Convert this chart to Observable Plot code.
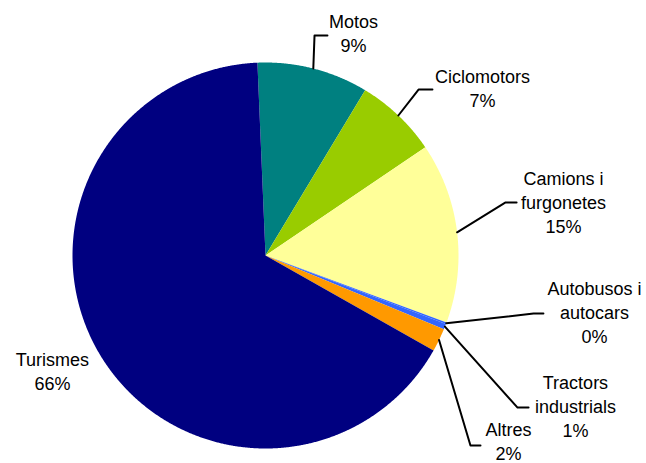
<!DOCTYPE html>
<html>
<head>
<meta charset="utf-8">
<script src="https://cdn.jsdelivr.net/npm/d3@7"></script>
<script src="https://cdn.jsdelivr.net/npm/@observablehq/plot@0.6"></script>
<style>
  html, body { margin: 0; padding: 0; background: #ffffff; }
  #chart { width: 646px; height: 463px; }
</style>
</head>
<body>
<div id="chart"></div>
<script>
// ---- data ----
const categories = ["Motos", "Ciclomotors", "Camions i furgonetes", "Autobusos i autocars", "Tractors industrials", "Altres", "Turismes"];
const shares = [9.3, 6.9, 15.1, 0.15, 0.45, 1.95, 66.15];
const percentLabels = ["9%", "7%", "15%", "0%", "1%", "2%", "66%"];
const sliceColors = ["#008080", "#99CC00", "#FFFF99", "#3366FF", "#3366FF", "#FF9900", "#000080"];

// ---- layout (radius units; centre = 0,0) ----
const startAngle = -2.4 * Math.PI / 180;
const firstLineWords = [1, 1, 2, 2, 1, 1, 1];
const labelPos = [
  {u: 0.456, v: 1.157, ex: 0.254, ey: 1.140, end: 0.321},
  {u: 1.124, v: 0.873, ex: 0.793, ey: 0.860, end: 0.865},
  {u: 1.544, v: 0.281, ex: 1.244, ey: 0.275, end: 1.301},
  {u: 1.705, v: -0.289, ex: 1.389, ey: -0.301, end: 1.440},
  {u: 1.606, v: -0.776, ex: 1.306, ey: -0.788, end: 1.363},
  {u: 1.259, v: -0.958, ex: 1.062, ey: -0.984, end: 1.114},
  {u: -1.104, v: -0.594, ex: null}
];

// ---- build slices ----
const total = d3.sum(shares);
const piePts = [];
const leaderPts = [];
const labelRows = [];
let a = startAngle;
categories.forEach((cat, i) => {
  const a1 = a + shares[i] / total * 2 * Math.PI;
  piePts.push({cat, color: sliceColors[i], u: 0, v: 0});
  const step = Math.PI / 720;
  for (let t = a; t < a1; t += step) piePts.push({cat, color: sliceColors[i], u: Math.sin(t), v: Math.cos(t)});
  piePts.push({cat, color: sliceColors[i], u: Math.sin(a1), v: Math.cos(a1)});
  piePts.push({cat, color: sliceColors[i], u: 0, v: 0});
  const mid = (a + a1) / 2;
  const L = labelPos[i];
  if (L.ex !== null) {
    leaderPts.push({cat, u: Math.sin(mid), v: Math.cos(mid)});
    leaderPts.push({cat, u: L.ex, v: L.ey});
    leaderPts.push({cat, u: L.end, v: L.ey});
  }
  const words = cat.split(" ");
  const n = firstLineWords[i];
  let text = words.slice(0, n).join(" ");
  if (words.length > n) text += "\n" + words.slice(n).join(" ");
  text += "\n" + percentLabels[i];
  labelRows.push({cat, u: L.u, v: L.v, text});
  a = a1;
});

const chart = Plot.plot({
  width: 646,
  height: 463,
  marginLeft: 72,
  marginRight: 188,
  marginTop: 62,
  marginBottom: 15,
  x: {domain: [-1, 1], axis: null},
  y: {domain: [-1, 1], axis: null},
  color: {type: "identity"},
  style: {fontFamily: "'Liberation Sans', Arial, sans-serif", background: "#ffffff", overflow: "visible"},
  marks: [
    Plot.line(piePts, {x: "u", y: "v", z: "cat", fill: "color", stroke: "none", curve: "linear"}),
    Plot.line(leaderPts, {x: "u", y: "v", z: "cat", stroke: "#000000", strokeWidth: 2, curve: "linear"}),
    Plot.text(labelRows, {x: "u", y: "v", text: "text", fontSize: 18, lineHeight: 1.33, fill: "#000000", textAnchor: "middle"})
  ]
});
document.getElementById("chart").appendChild(chart);
</script>
</body>
</html>
